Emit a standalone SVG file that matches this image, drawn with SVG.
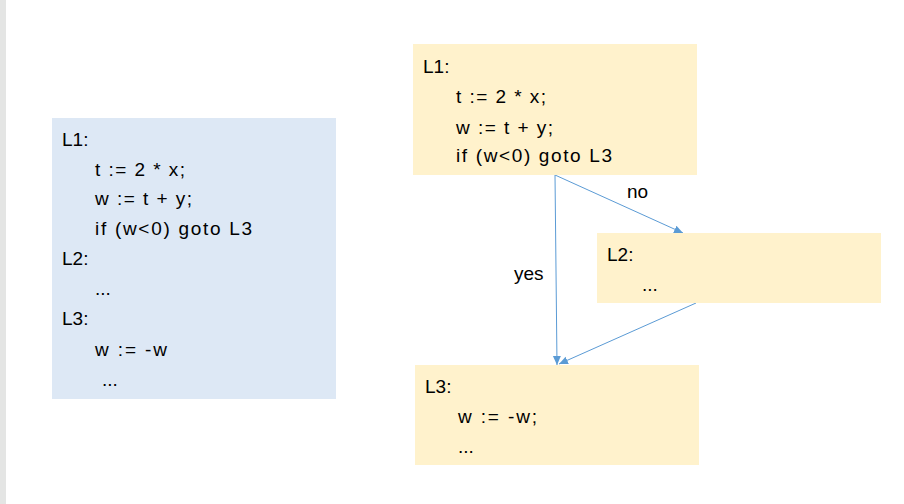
<svg xmlns="http://www.w3.org/2000/svg" width="904" height="504" viewBox="0 0 904 504">
<style>
text { font-family: "Liberation Sans", Arial, sans-serif; font-size: 19px; fill: #000; }
.blue { fill: #dde8f5; }
.yel { fill: #fff2cc; }
.edge { stroke: #5b9bd5; stroke-width: 1; fill: none; }
</style>
<defs>
<marker id="ah" markerUnits="userSpaceOnUse" markerWidth="10" markerHeight="10" viewBox="0 0 10 10" refX="9" refY="5" orient="auto">
<path d="M0,1 L9,5 L0,9 Z" fill="#5b9bd5"/>
</marker>
</defs>
<rect x="0" y="0" width="904" height="504" fill="#ffffff"/>
<rect x="0" y="0" width="6" height="504" fill="#e4e5e4"/>

<g id="code">
<rect class="blue" x="52" y="118" width="284" height="281"/>
<text x="62" y="146">L1:</text>
<text x="95" y="176" textLength="90" lengthAdjust="spacing">t := 2 * x;</text>
<text x="95" y="205" textLength="97" lengthAdjust="spacing">w := t + y;</text>
<text x="95" y="235" textLength="157" lengthAdjust="spacing">if (w&lt;0) goto L3</text>
<text x="62" y="265">L2:</text>
<text x="95" y="295">...</text>
<text x="62" y="325">L3:</text>
<text x="95" y="356" textLength="72" lengthAdjust="spacing">w := -w</text>
<text x="102" y="386">...</text>
</g>

<g id="edges">
<line class="edge" x1="555" y1="175" x2="557" y2="365" marker-end="url(#ah)"/>
<line class="edge" x1="555" y1="175" x2="683" y2="233" marker-end="url(#ah)"/>
<line class="edge" x1="696" y1="303" x2="559" y2="364" marker-end="url(#ah)"/>
<text x="514" y="280">yes</text>
<text x="627" y="198">no</text>
</g>

<g id="L1">
<rect class="yel" x="413" y="44" width="284" height="131"/>
<text x="423" y="73">L1:</text>
<text x="456" y="103" textLength="90" lengthAdjust="spacing">t := 2 * x;</text>
<text x="456" y="134" textLength="97" lengthAdjust="spacing">w := t + y;</text>
<text x="456" y="162" textLength="156" lengthAdjust="spacing">if (w&lt;0) goto L3</text>
</g>

<g id="L2">
<rect class="yel" x="597" y="233" width="284" height="70"/>
<text x="607" y="261">L2:</text>
<text x="642" y="291">...</text>
</g>

<g id="L3">
<rect class="yel" x="415" y="365" width="284" height="100"/>
<text x="425" y="393">L3:</text>
<text x="458" y="423" textLength="79" lengthAdjust="spacing">w := -w;</text>
<text x="458" y="453">...</text>
</g>
</svg>
